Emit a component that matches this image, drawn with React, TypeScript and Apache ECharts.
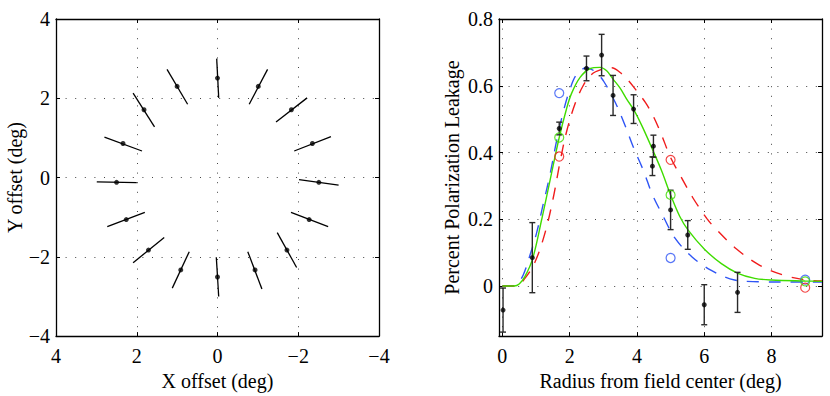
import React, { useEffect, useRef } from 'react';
import * as echarts from 'echarts';

// ---------- Left panel: offsets ----------
const offsetTicks = [-4, -2, 0, 2, 4];
const dotX = [0.0, -1.01, -1.83, -2.35, -2.51, 1.0, 1.82, 2.34, 2.5, 2.26, 1.71, 0.91, 0.0, -0.93, -1.72, -2.27];
const dotY = [2.51, 2.3, 1.71, 0.86, -0.12, 2.3, 1.71, 0.86, -0.12, -1.06, -1.83, -2.33, -2.51, -2.33, -1.83, -1.06];
const segX1 = [0.02, -1.24, -2.22, -2.81, -2.02, 1.25, 2.09, 2.8, 2.99, 2.73, 2.09, 1.12, 0.03, -0.75, -1.48, -1.82];
const segY1 = [3.0, 2.73, 2.01, 1.03, -0.05, 2.73, 2.13, 1.02, -0.11, -1.24, -2.15, -2.79, -2.01, -1.87, -1.39, -0.88];
const segX2 = [-0.03, -0.785, -1.45, -1.9, -3.0, 0.74, 1.56, 1.87, 2.0, 1.8, 1.32, 0.7, -0.03, -1.1, -1.96, -2.74];
const segY2 = [2.01, 1.85, 1.4, 0.67, -0.19, 1.85, 1.28, 0.67, -0.13, -0.88, -1.51, -1.87, -3.0, -2.81, -2.27, -1.24];

// ---------- Right panel: leakage vs radius ----------
const radiusTicks = [0, 2, 4, 6, 8];
const leakageTicks = [0, 0.2, 0.4, 0.6, 0.8];

const measRadius = [0.02, 0.89, 1.69, 2.5, 2.95, 3.29, 3.9, 4.49, 4.46, 5.0, 5.51, 6.0, 6.99];
const measLeak = [-0.072, 0.085, 0.472, 0.652, 0.692, 0.571, 0.53, 0.419, 0.359, 0.228, 0.153, -0.056, -0.019];
const measErr = [0.066, 0.105, 0.019, 0.037, 0.062, 0.06, 0.043, 0.033, 0.028, 0.059, 0.043, 0.06, 0.06];

const greenX = [0, 0.35, 0.5, 0.67, 0.9, 1.17, 1.42, 1.69, 1.91, 2.06, 2.31, 2.6, 2.9, 3.1, 3.29, 3.5, 3.69, 3.94, 4.18, 4.48, 4.73, 5.0, 5.27, 5.51, 6.0, 6.51, 7.0, 7.5, 8.0, 9.0, 9.5];
const greenY = [0, 0, 0.006, 0.028, 0.082, 0.2, 0.318, 0.445, 0.532, 0.578, 0.625, 0.651, 0.655, 0.645, 0.62, 0.593, 0.561, 0.522, 0.473, 0.405, 0.346, 0.273, 0.209, 0.169, 0.111, 0.067, 0.038, 0.023, 0.018, 0.015, 0.014];

const blueX = [0, 0.3, 0.45, 0.62, 0.82, 1.02, 1.22, 1.42, 1.61, 1.81, 2.01, 2.21, 2.5, 2.8, 3.02, 3.36, 3.65, 3.91, 4.2, 4.45, 4.78, 5.12, 5.63, 6.21, 6.9, 7.6, 8.5, 9.5];
const blueY = [0, 0, 0.008, 0.033, 0.092, 0.16, 0.248, 0.336, 0.434, 0.522, 0.59, 0.634, 0.654, 0.639, 0.612, 0.549, 0.48, 0.412, 0.344, 0.276, 0.209, 0.145, 0.088, 0.047, 0.018, 0.013, 0.012, 0.012];

const redX = [0, 0.4, 0.67, 0.97, 1.27, 1.51, 1.71, 1.91, 2.16, 2.4, 2.65, 2.95, 3.25, 3.51, 3.75, 4.01, 4.25, 4.48, 4.71, 5.0, 5.3, 5.67, 6.08, 6.31, 6.96, 7.65, 8.34, 9.03, 9.5];
const redY = [0, 0, 0.023, 0.072, 0.16, 0.263, 0.37, 0.463, 0.546, 0.6, 0.634, 0.649, 0.654, 0.639, 0.615, 0.582, 0.55, 0.51, 0.458, 0.385, 0.329, 0.263, 0.202, 0.175, 0.111, 0.062, 0.033, 0.018, 0.015];

const circleX = [1.69, 5.0, 9.0];
const blueCircleY = [0.578, 0.084, 0.019];
const redCircleY = [0.388, 0.378, -0.005];
const greenCircleY = [0.445, 0.273, 0.014];

const FONT = 'Liberation Serif';
const GREEN = '#3fdc00';
const BLUE = '#2f55f5';
const RED = '#f01c1c';

const minus = (v: number) => (v < 0 ? '\u2212' + Math.abs(v) : String(v));

function zip(xs: number[], ys: number[]) {
  return xs.map((x, i) => [x, ys[i]]);
}

const gridLine = { show: true, lineStyle: { color: '#444', width: 1, type: [1, 8.6] as any } };
const axisLineStyle = { show: true, onZero: false, lineStyle: { color: '#000', width: 1.3 } };
const tickStyle = { show: true, inside: true, length: 4, lineStyle: { color: '#000', width: 1 } };
const labelStyle = { fontFamily: FONT, fontSize: 20, color: '#000' };

export default function App() {
  const ref = useRef<HTMLDivElement>(null);
  useEffect(() => {
    if (!ref.current) return;
    const chart = echarts.init(ref.current, undefined, { renderer: 'svg' });

    const leftX = (pos: 'bottom' | 'top', main: boolean) => ({
      type: 'value', gridIndex: 0, position: pos, min: offsetTicks[0], max: offsetTicks[offsetTicks.length - 1], interval: 2, inverse: true,
      axisLine: axisLineStyle, axisTick: tickStyle,
      axisLabel: main ? { ...labelStyle, margin: 10, formatter: (v: number) => minus(v) } : { show: false },
      splitLine: main ? gridLine : { show: false },
      name: main ? 'X offset (deg)' : '', nameLocation: 'middle', nameGap: 34,
      nameTextStyle: labelStyle,
    });
    const leftY = (pos: 'left' | 'right', main: boolean) => ({
      type: 'value', gridIndex: 0, position: pos, min: offsetTicks[0], max: offsetTicks[offsetTicks.length - 1], interval: 2,
      axisLine: axisLineStyle, axisTick: tickStyle,
      axisLabel: main ? { ...labelStyle, margin: 6, formatter: (v: number) => minus(v) } : { show: false },
      splitLine: main ? gridLine : { show: false },
      name: main ? 'Y offset (deg)' : '', nameLocation: 'middle', nameGap: 27,
      nameTextStyle: labelStyle,
    });
    const rightX = (pos: 'bottom' | 'top', main: boolean) => ({
      type: 'value', gridIndex: 1, position: pos, min: -0.1, max: 9.5,
      axisLine: axisLineStyle, axisTick: { ...tickStyle, customValues: radiusTicks },
      axisLabel: main ? { ...labelStyle, margin: 10, customValues: radiusTicks, formatter: (v: number) => String(v) } : { show: false },
      splitLine: main ? gridLine : { show: false },
      name: main ? 'Radius from field center (deg)' : '', nameLocation: 'middle', nameGap: 34,
      nameTextStyle: labelStyle,
    });
    const rightY = (pos: 'left' | 'right', main: boolean) => ({
      type: 'value', gridIndex: 1, position: pos, min: -0.15, max: 0.8,
      axisLine: axisLineStyle, axisTick: { ...tickStyle, customValues: leakageTicks },
      axisLabel: main ? { ...labelStyle, margin: 6, customValues: leakageTicks, formatter: (v: number) => (v === 0 ? '0' : v.toFixed(1)) } : { show: false },
      splitLine: main ? gridLine : { show: false },
      name: main ? 'Percent Polarization Leakage' : '', nameLocation: 'middle', nameGap: 37,
      nameTextStyle: labelStyle,
    });

    const segData = segX1.map((x, i) => [x, segY1[i], segX2[i], segY2[i]]);
    const errData = measRadius.map((x, i) => [x, measLeak[i], measErr[i]]);

    const curve = (name: string, xs: number[], ys: number[], color: string, dashed: boolean) => ({
      name, type: 'line', xAxisIndex: 2, yAxisIndex: 2, data: zip(xs, ys), smooth: 0.35,
      showSymbol: false, symbol: 'none', silent: true, clip: true,
      lineStyle: { color, width: 1.4, type: dashed ? [12, 10] : 'solid' },
      z: 3,
    });
    const circles = (name: string, ys: number[], color: string) => ({
      name, type: 'scatter', xAxisIndex: 2, yAxisIndex: 2, data: zip(circleX, ys),
      symbol: 'circle', symbolSize: 9, silent: true,
      itemStyle: { color: 'rgba(0,0,0,0)', borderColor: color, borderWidth: 1.2 },
      z: 5,
    });

    chart.setOption({
      animation: false,
      backgroundColor: '#fff',
      grid: [
        { left: 56, top: 19, width: 323, height: 323, containLabel: false },
        { left: 499, top: 19, width: 323, height: 323, containLabel: false },
      ],
      xAxis: [leftX('bottom', true), leftX('top', false), rightX('bottom', true), rightX('top', false)],
      yAxis: [leftY('left', true), leftY('right', false), rightY('left', true), rightY('right', false)],
      series: [
        {
          name: 'segments', type: 'custom', xAxisIndex: 0, yAxisIndex: 0, data: segData,
          encode: { x: [0, 2], y: [1, 3] }, silent: true,
          renderItem: (_p: any, api: any) => {
            const a = api.coord([api.value(0), api.value(1)]);
            const b = api.coord([api.value(2), api.value(3)]);
            return { type: 'line', shape: { x1: a[0], y1: a[1], x2: b[0], y2: b[1] }, style: { stroke: '#000', lineWidth: 1.3 } };
          },
          z: 3,
        },
        {
          name: 'positions', type: 'scatter', xAxisIndex: 0, yAxisIndex: 0, data: zip(dotX, dotY),
          symbol: 'circle', symbolSize: 5, itemStyle: { color: '#000' }, silent: true, z: 4,
        },
        curve('blue model', blueX, blueY, BLUE, true),
        curve('red model', redX, redY, RED, true),
        curve('green model', greenX, greenY, GREEN, false),
        {
          name: 'errors', type: 'custom', xAxisIndex: 2, yAxisIndex: 2, data: errData,
          encode: { x: 0, y: 1 }, silent: true,
          renderItem: (_p: any, api: any) => {
            const x = api.value(0), y = api.value(1), e = api.value(2);
            const top = api.coord([x, y + e]);
            const bot = api.coord([x, y - e]);
            const st = { stroke: '#2a2a2a', lineWidth: 1.4 };
            return {
              type: 'group',
              children: [
                { type: 'line', shape: { x1: top[0], y1: top[1], x2: bot[0], y2: bot[1] }, style: st },
                { type: 'line', shape: { x1: top[0] - 3, y1: top[1], x2: top[0] + 3, y2: top[1] }, style: st },
                { type: 'line', shape: { x1: bot[0] - 3, y1: bot[1], x2: bot[0] + 3, y2: bot[1] }, style: st },
              ],
            };
          },
          z: 4,
        },
        {
          name: 'measured', type: 'scatter', xAxisIndex: 2, yAxisIndex: 2, data: zip(measRadius, measLeak),
          symbol: 'circle', symbolSize: 5, itemStyle: { color: '#000' }, silent: true, z: 6,
        },
        circles('blue points', blueCircleY, BLUE),
        circles('red points', redCircleY, RED),
        circles('green points', greenCircleY, GREEN),
      ],
    });
    return () => chart.dispose();
  }, []);

  return (
    <div
      ref={ref}
      style={{ position: 'fixed', left: 0, top: 0, width: 830, height: 396, background: '#fff' }}
    />
  );
}
